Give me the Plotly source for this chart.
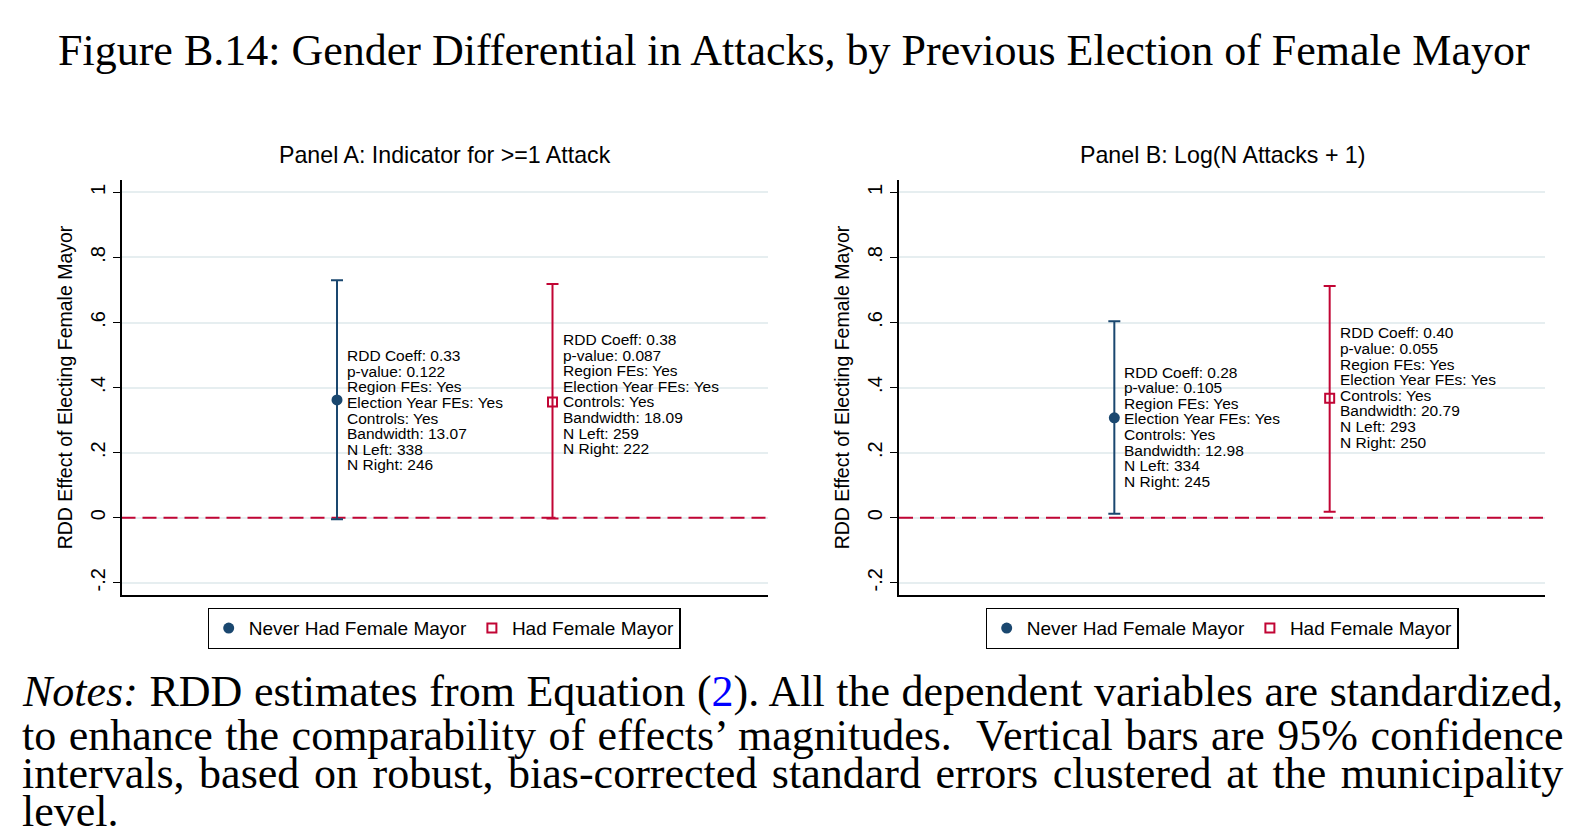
import plotly.graph_objects as go

# ---------------- data ----------------
groups = ["Never Had Female Mayor", "Had Female Mayor"]
group_x = [1, 2]

# Panel A: Indicator for >=1 Attack
a_point = [0.362, 0.356]
a_ci_hi = [0.730, 0.718]
a_ci_lo = [-0.005, -0.002]
a_coef = [0.33, 0.38]
a_labels = [
    ["RDD Coeff: 0.33", "p-value: 0.122", "Region FEs: Yes", "Election Year FEs: Yes",
     "Controls: Yes", "Bandwidth: 13.07", "N Left: 338", "N Right: 246"],
    ["RDD Coeff: 0.38", "p-value: 0.087", "Region FEs: Yes", "Election Year FEs: Yes",
     "Controls: Yes", "Bandwidth: 18.09", "N Left: 259", "N Right: 222"],
]

# Panel B: Log(N Attacks + 1)
b_point = [0.307, 0.367]
b_ci_hi = [0.604, 0.712]
b_ci_lo = [0.012, 0.018]
b_coef = [0.28, 0.40]
b_labels = [
    ["RDD Coeff: 0.28", "p-value: 0.105", "Region FEs: Yes", "Election Year FEs: Yes",
     "Controls: Yes", "Bandwidth: 12.98", "N Left: 334", "N Right: 245"],
    ["RDD Coeff: 0.40", "p-value: 0.055", "Region FEs: Yes", "Election Year FEs: Yes",
     "Controls: Yes", "Bandwidth: 20.79", "N Left: 293", "N Right: 250"],
]

y_tickvals = [-0.2, 0, 0.2, 0.4, 0.6, 0.8, 1.0]
y_ticktext = ["-.2", "0", ".2", ".4", ".6", ".8", "1"]

panel_titles = ["Panel A: Indicator for >=1 Attack", "Panel B: Log(N Attacks + 1)"]
y_title = "RDD Effect of Electing Female Mayor"
main_title = "Figure B.14: Gender Differential in Attacks, by Previous Election of Female Mayor"
notes_lines = [
    "<i>Notes:</i> RDD estimates from Equation (<span style='color:#0000ff'>2</span>). All the dependent variables are standardized,",
    "to enhance the comparability of effects\u2019 magnitudes.  Vertical bars are 95% confidence",
    "intervals, based on robust, bias-corrected standard errors clustered at the municipality",
    "level.",
]
notes_word_spacing = [0.6, 1.5, 3.6, 0]

# ---------------- style ----------------
W, H = 1588, 838
OFF = 8  # page body margin of the html page
NAVY = "#1a476f"
RED = "#c10534"
GRID = "#e6eef0"
SANS = "Liberation Sans, Arial, sans-serif"
SERIF = "Liberation Serif, Times New Roman, serif"


def fx(s):
    return (s - OFF) / W


def fy(s):
    return 1 - (s - OFF) / H


x_range = [0, 3]
y_range = [-0.2375, 1.038]

dom_a = [fx(121.5), fx(768)]
dom_b = [fx(899), fx(1545)]
dom_y = [fy(595), fy(180)]

fig = go.Figure()

panels = [
    ("x", "y", "legend", a_point, a_ci_hi, a_ci_lo, a_coef, a_labels),
    ("x2", "y2", "legend2", b_point, b_ci_hi, b_ci_lo, b_coef, b_labels),
]

for xa, ya, leg, pts, hi, lo, coef, labels in panels:
    # zero reference line
    fig.add_trace(go.Scatter(
        x=x_range, y=[0, 0], mode="lines", xaxis=xa, yaxis=ya,
        line=dict(color=RED, width=2, dash="14px,7px"),
        showlegend=False, hoverinfo="skip"))
    styles = [
        dict(symbol="circle", size=11, color=NAVY, line=dict(width=0)),
        dict(symbol="square-open", size=9, color=RED, line=dict(width=2, color=RED)),
    ]
    colors = [NAVY, RED]
    for i in range(2):
        fig.add_trace(go.Scatter(
            x=[group_x[i]], y=[pts[i]], mode="markers", xaxis=xa, yaxis=ya,
            name=groups[i], legend=leg,
            marker=styles[i],
            error_y=dict(type="data", symmetric=False,
                         array=[hi[i] - pts[i]], arrayminus=[pts[i] - lo[i]],
                         color=colors[i], thickness=2, width=6),
        ))
        n = len(labels[i])
        for j, line in enumerate(labels[i]):
            fig.add_annotation(
                x=group_x[i], y=coef[i], xref=xa, yref=ya,
                text=line, showarrow=False, xanchor="left", yanchor="middle",
                xshift=8, yshift=((n - 1) / 2 - j) * 15.6,
                font=dict(family=SANS, size=15.5, color="black"))

axis_common_y = dict(
    range=y_range, tickvals=y_tickvals, ticktext=y_ticktext, tickangle=-90,
    showgrid=True, gridcolor=GRID, gridwidth=1.5, zeroline=False,
    showline=True, linecolor="black", linewidth=1.5,
    ticks="outside", ticklen=7, tickcolor="black", tickwidth=1.2,
    tickfont=dict(family=SANS, size=20, color="black"),
    title=dict(text=y_title, font=dict(family=SANS, size=19.5, color="black"), standoff=9),
    domain=dom_y, automargin=False,
)
axis_common_x = dict(
    range=x_range, showticklabels=False, ticks="", showgrid=False, zeroline=False,
    showline=True, linecolor="black", linewidth=1.5, automargin=False,
)

legend_common = dict(orientation="h", xanchor="center", y=fy(608), yanchor="top",
                     bordercolor="black", borderwidth=1.2,
                     font=dict(family=SANS, size=19, color="black"),
                     itemwidth=30, tracegroupgap=0)

fig.update_layout(
    width=W, height=H,
    margin=dict(l=0, r=0, t=0, b=0),
    paper_bgcolor="white", plot_bgcolor="white",
    xaxis=dict(domain=dom_a, anchor="y", **axis_common_x),
    yaxis=dict(anchor="x", **axis_common_y),
    xaxis2=dict(domain=dom_b, anchor="y2", **axis_common_x),
    yaxis2=dict(anchor="x2", **axis_common_y),
    legend=dict(x=fx(444), **legend_common),
    legend2=dict(x=fx(1222), **legend_common),
    showlegend=True,
)

# panel titles
for dom, t in zip([dom_a, dom_b], panel_titles):
    fig.add_annotation(x=(dom[0] + dom[1]) / 2, y=fy(155), xref="paper", yref="paper",
                       text=t, showarrow=False, xanchor="center", yanchor="middle",
                       font=dict(family=SANS, size=23.2, color="black"))

# main title
fig.add_annotation(x=fx(794), y=fy(50), xref="paper", yref="paper",
                   text=main_title, showarrow=False, xanchor="center", yanchor="middle",
                   font=dict(family=SERIF, size=44, color="black"))

# notes
note_y = [691, 735, 773, 811]
for line, yy, ws in zip(notes_lines, note_y, notes_word_spacing):
    fig.add_annotation(x=fx(20), y=fy(yy), xref="paper", yref="paper",
                       text=f"<span style='word-spacing:{ws}px'>{line}</span>",
                       showarrow=False, xanchor="left", yanchor="middle",
                       font=dict(family=SERIF, size=44, color="black"))

fig.write_html("out.html")
